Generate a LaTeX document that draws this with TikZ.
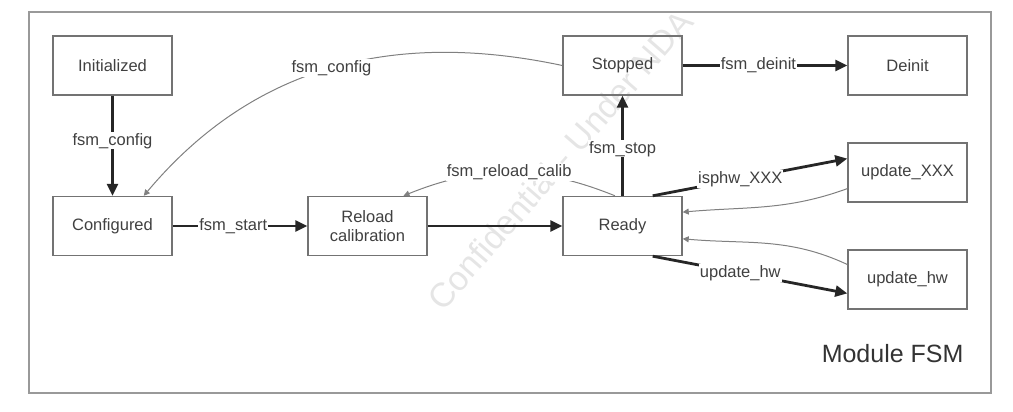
\documentclass[tikz,border=0pt]{standalone}
\usepackage{fontspec}
\setmainfont{Liberation Sans}
\usetikzlibrary{arrows.meta}
\begin{document}
\begin{tikzpicture}[x=1pt,y=1pt,
    state/.style={draw=black!55,line width=1.4pt,minimum width=119pt,minimum height=59pt,
      inner sep=0pt,align=center,font=\fontsize{16.5}{19}\selectfont,text=black!75},
    lbl/.style={fill=white,inner sep=1pt,font=\fontsize{16.5}{19}\selectfont,text=black!75},
    heavy/.style={-{Triangle[length=12pt,width=11pt]},line width=2.8pt,black!85},
    light/.style={-{Triangle[length=6pt,width=6pt]},line width=1pt,black!50}]
  \useasboundingbox (0,0) rectangle (1013,412);
  \draw[black!40,line width=2pt] (29,19) rectangle (991,400);
  \node[rotate=49,text=black!10,font=\fontsize{34}{36}\selectfont] (mark) at (560,252) {Confidential - Under NDA};
  \draw
    (112.5,346.5) node[state] (ini) {Initialized}
    (112.5,186) node[state] (cfg) {Configured}
    (367.5,186) node[state] (rel) {Reload\\calibration}
    (622.5,186) node[state] (rdy) {Ready}
    (622.5,346.5) node[state] (stp) {Stopped}
    (907.5,346.5) node[state] (dei) {Deinit}
    (907.5,239.5) node[state] (uxx) {update\_XXX}
    (907.5,132.5) node[state] (uhw) {update\_hw};
  \node[anchor=base east,font=\fontsize{25}{30}\selectfont,text=black!80] (title) at (967,49) {Module FSM};
  \begin{scope}[heavy]
    \draw (ini) to node[lbl,pos=0.45] {fsm\_config} (cfg);
    \draw (cfg) to node[lbl,pos=0.45] {fsm\_start} (rel);
    \draw (rel) to (rdy);
    \draw (rdy) to node[lbl,pos=0.47] {fsm\_stop} (stp);
    \draw (stp) to node[lbl,pos=0.46] {fsm\_deinit} (dei);
    \draw (rdy.45) to node[lbl,pos=0.45] {isphw\_XXX} (uxx.167);
    \draw (rdy.-45) to node[lbl,pos=0.45] {update\_hw} (uhw.193);
  \end{scope}
  \begin{scope}[light]
    \draw (stp.west) to[out=168,in=50] node[lbl,pos=0.5] {fsm\_config} (cfg.44);
    \draw (rdy.104) to[out=158,in=22] node[lbl] {fsm\_reload\_calib} (rel.40);
    \draw (uxx.195) to[out=200,in=5] (rdy.13);
    \draw (uhw.166) to[out=155,in=-5] (rdy.-12);
  \end{scope}
\end{tikzpicture}
\end{document}
